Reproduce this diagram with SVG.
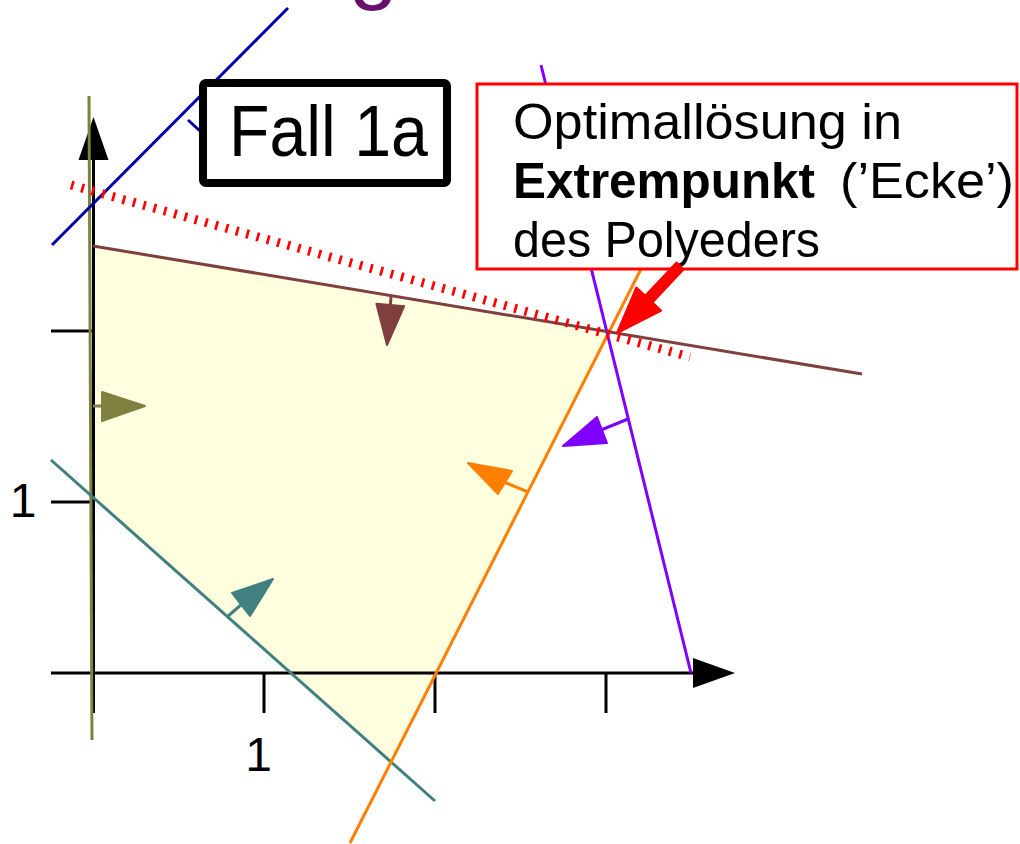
<svg xmlns="http://www.w3.org/2000/svg" width="1020" height="844" viewBox="0 0 1020 844">
<style>
  text { font-family: "Liberation Sans", Arial, sans-serif; fill: #000; }
  .ax { stroke: #000; stroke-width: 3; fill: none; }
  .ln { stroke-width: 3; fill: none; }
  .head { stroke-width: 2; stroke-linejoin: round; }
  .brown { stroke: #7F3F3F; }
  .olive { stroke: #808040; }
  .teal { stroke: #408080; }
  .orange { stroke: #FF8000; }
  .purple { stroke: #8000FF; }
  .blue { stroke: #0000AA; }
</style>
<rect x="0" y="0" width="1020" height="844" fill="#fff"/>

<g id="title-fragment">
  <text x="349" y="-7" font-size="88" style="fill:#6B0F6E">g</text>
</g>

<g id="polyhedron">
  <polygon points="93,246 608,332 391,762 93,496" fill="#FFFEDE"/>
</g>

<g id="axes">
  <line class="ax" x1="93.5" y1="713" x2="93.5" y2="158"/>
  <polygon points="93.5,117 108.5,160 78.5,160" fill="#000"/>
  <line class="ax" x1="51" y1="673" x2="695" y2="673"/>
  <polygon points="735,673 693,658 693,688" fill="#000"/>
  <line class="ax" x1="264" y1="673" x2="264" y2="713"/>
  <line class="ax" x1="435" y1="673" x2="435" y2="713"/>
  <line class="ax" x1="606" y1="673" x2="606" y2="713"/>
  <line class="ax" x1="51" y1="502" x2="93" y2="502"/>
  <line class="ax" x1="51" y1="331" x2="93" y2="331"/>
  <text x="23" y="517" font-size="48" text-anchor="middle">1</text>
  <text x="258.5" y="771" font-size="48" text-anchor="middle">1</text>
</g>

<g id="connectors">
  <!-- olive constraint (x1 >= 0) -->
  <line class="ln olive" x1="89" y1="96" x2="92" y2="740"/>
  <line class="ln olive" x1="93" y1="406" x2="103" y2="406"/>
  <polygon class="head olive" points="145,406 102,392 102,421" fill="#808040"/>

  <!-- teal constraint -->
  <line class="ln teal" x1="51" y1="460" x2="435" y2="801"/>
  <line class="ln teal" x1="227" y1="617" x2="242" y2="604"/>
  <polygon class="head teal" points="273,579 232,593 250,616" fill="#408080"/>

  <!-- orange constraint -->
  <line class="ln orange" x1="350" y1="843" x2="643" y2="265"/>
  <line class="ln orange" x1="528" y1="492" x2="504" y2="482"/>
  <polygon class="head orange" points="468,463 512,471 498,494" fill="#FF8000"/>

  <!-- purple constraint -->
  <line class="ln purple" x1="541" y1="65" x2="691" y2="673"/>
  <line class="ln purple" x1="628" y1="419" x2="601" y2="430"/>
  <polygon class="head purple" points="563,446 597,417 607,443" fill="#8000FF"/>

  <!-- brown constraint -->
  <line class="ln brown" x1="93" y1="246" x2="862" y2="374"/>
  <line class="ln brown" x1="391" y1="297" x2="390.3" y2="306"/>
  <polygon class="head brown" points="387,345 404.2,306.2 376.4,303.8" fill="#7F3F3F"/>

  <!-- objective line (blue) -->
  <line class="ln blue" x1="52" y1="245" x2="288" y2="8"/>
  <line class="ln blue" x1="188" y1="120" x2="200" y2="131"/>

  <!-- optimal objective level (red dotted) -->
  <line x1="71" y1="185" x2="690" y2="357" stroke="#FF0000" stroke-width="9" stroke-dasharray="2.7 8" fill="none"/>
</g>

<g id="fall-label">
  <rect x="203" y="83" width="244" height="100" rx="3" fill="#fff" stroke="#000" stroke-width="8"/>
  <text x="229" y="156" font-size="72" textLength="199" lengthAdjust="spacingAndGlyphs">Fall 1a</text>
</g>

<g id="optimum-note">
  <rect x="477" y="84" width="540" height="185" fill="#fff" stroke="#FF0000" stroke-width="3"/>
  <text x="513" y="139" font-size="50" textLength="389" lengthAdjust="spacingAndGlyphs">Optimallösung in</text>
  <text x="513" y="198" font-size="50" font-weight="bold" textLength="302" lengthAdjust="spacingAndGlyphs">Extrempunkt</text>
  <text x="840" y="198" font-size="50" textLength="174" lengthAdjust="spacingAndGlyphs">(’Ecke’)</text>
  <text x="513" y="257" font-size="50" textLength="307" lengthAdjust="spacingAndGlyphs">des Polyeders</text>
</g>

<g id="optimum-arrow">
  <polygon points="676.4,262.6 645.2,295.7 636.4,287.5 617,333 661.2,310.7 652.4,302.5 683.6,269.4" fill="#FF0000" stroke="#FF0000" stroke-width="2" stroke-linejoin="round"/>
</g>
</svg>
